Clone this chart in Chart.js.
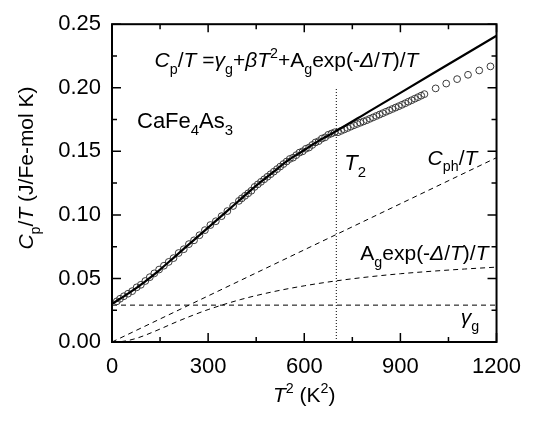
<!DOCTYPE html>
<html>
<head>
<meta charset="utf-8">
<title>CaFe4As3 Cp/T vs T^2</title>
<script src="https://cdn.jsdelivr.net/npm/chart.js@4"></script>
<style>
  html, body { margin: 0; padding: 0; background: #fff; }
  canvas { display: block; }
</style>
</head>
<body>
<canvas id="chartJSContainer" width="533" height="424"></canvas>
<script>
// ---- data ----
var xTicks = [0, 300, 600, 900, 1200];
var yTicks = [0, 0.05, 0.10, 0.15, 0.20, 0.25];

// measured Cp/T (open circles)
var dataT2 = [15, 25, 37, 50, 63, 77, 90, 104, 118, 132, 147, 162, 177, 192, 208, 224, 240, 256, 273, 290,
  307, 324, 342, 360, 378, 396,
  405, 415, 425, 435, 445, 455, 465, 475, 485, 495, 505, 515, 525, 535, 545, 555, 565, 575, 585, 595,
  605, 615, 625, 635, 645, 655, 665, 675, 685, 695,
  705, 715, 725, 735, 745, 755, 765, 775, 785, 795, 805, 815, 825, 835, 845, 855, 865, 875, 885, 895,
  905, 915, 925, 935, 945, 955, 965, 975,
  1010, 1043, 1077, 1111, 1146, 1181];
var dataCpT = [0.032, 0.034, 0.036, 0.038, 0.040, 0.043, 0.045, 0.048, 0.051, 0.054, 0.057, 0.060, 0.063, 0.066, 0.070, 0.073, 0.077, 0.080, 0.084, 0.088,
  0.092, 0.095, 0.099, 0.103, 0.107, 0.111,
  0.113, 0.115, 0.117, 0.119, 0.122, 0.124, 0.126, 0.128, 0.130, 0.132, 0.134, 0.136, 0.138, 0.140, 0.142, 0.144, 0.145, 0.147, 0.149, 0.150,
  0.152, 0.153, 0.155, 0.157, 0.158, 0.160, 0.161, 0.163, 0.164, 0.165,
  0.1650, 0.1661, 0.1672, 0.1683, 0.1694, 0.1705, 0.1715, 0.1725, 0.1735, 0.1745, 0.1756, 0.1767, 0.1778, 0.1789, 0.1800, 0.1811, 0.1822, 0.1833, 0.1844, 0.1855,
  0.1866, 0.1878, 0.1890, 0.1902, 0.1914, 0.1926, 0.1938, 0.1950,
  0.1995, 0.2033, 0.2068, 0.2102, 0.2136, 0.2168];

// total fit (solid line)
var fitT2  = [0, 50, 100, 150, 200, 250, 300, 350, 400, 450, 500, 550, 600, 650, 700, 800, 900, 1000, 1100, 1200];
var fitCpT = [0.030, 0.038, 0.047, 0.057, 0.068, 0.079, 0.090, 0.101, 0.112, 0.123, 0.133, 0.143, 0.151, 0.159, 0.166, 0.181, 0.196, 0.211, 0.226, 0.241];

// phonon part Cph/T (dashed straight line)
var phT2  = [0, 1200];
var phCpT = [0, 0.145];

// gap part Ag exp(-D/T)/T (dashed curve)
var gapT2  = [0, 25, 50, 75, 100, 150, 200, 250, 300, 400, 500, 600, 700, 800, 900, 1000, 1100, 1200];
var gapCpT = [0, 0.0002, 0.0012, 0.0028, 0.0050, 0.0102, 0.0157, 0.0208, 0.0255, 0.0333, 0.0394, 0.0442, 0.0481, 0.0512, 0.0537, 0.0557, 0.0574, 0.0589];

// electronic gamma_g (dashed horizontal)
var gammaT2  = [0, 1200];
var gammaCpT = [0.029, 0.029];

// T2 marker (dotted vertical)
var markT2  = [700, 700];
var markCpT = [0, 0.199];

var FONT = '"Liberation Sans", Arial, sans-serif';

function pts(xs, ys){
    var out = [];
    for (var i = 0; i < xs.length; i++) out.push({x: xs[i], y: ys[i]});
    return out;
}

// draw a run of text pieces: {t, it, sub, sup}
function richWidth(ctx, runs, size){
    var w = 0;
    runs.forEach(function(r){
        var s = (r.sub || r.sup) ? size * 0.68 : size;
        ctx.font = (r.it ? 'italic ' : '') + s + 'px ' + FONT;
        w += ctx.measureText(r.t).width;
    });
    return w;
}
function drawRich(ctx, runs, x, y, size, align){
    var w = richWidth(ctx, runs, size);
    if (align === 'center') x -= w / 2;
    else if (align === 'right') x -= w;
    ctx.textAlign = 'left';
    ctx.textBaseline = 'alphabetic';
    ctx.fillStyle = '#000';
    runs.forEach(function(r){
        var s = (r.sub || r.sup) ? size * 0.68 : size;
        var dy = r.sub ? size * 0.32 : (r.sup ? -size * 0.42 : 0);
        ctx.font = (r.it ? 'italic ' : '') + s + 'px ' + FONT;
        ctx.fillText(r.t, x, y + dy);
        x += ctx.measureText(r.t).width;
    });
}

var framePlugin = {
    id: 'frameAndText',
    afterDraw: function(chart){
        var ctx = chart.ctx, a = chart.chartArea;
        var xs = chart.scales.x, ys = chart.scales.y;
        ctx.save();
        ctx.strokeStyle = '#000';
        ctx.lineWidth = 1.5;
        ctx.beginPath();
        // x ticks (major + minor) on bottom and top, pointing in
        for (var i = 0; i < xTicks.length; i++){
            var v = xTicks[i];
            var p = xs.getPixelForValue(v);
            ctx.moveTo(p, a.bottom); ctx.lineTo(p, a.bottom - 9);
            ctx.moveTo(p, a.top); ctx.lineTo(p, a.top + 8);
            if (i < xTicks.length - 1){
                var m = xs.getPixelForValue((v + xTicks[i + 1]) / 2);
                ctx.moveTo(m, a.bottom); ctx.lineTo(m, a.bottom - 5);
                ctx.moveTo(m, a.top); ctx.lineTo(m, a.top + 5);
            }
        }
        for (var j = 0; j < yTicks.length; j++){
            var w = yTicks[j];
            var q = ys.getPixelForValue(w);
            ctx.moveTo(a.left, q); ctx.lineTo(a.left + 9, q);
            ctx.moveTo(a.right, q); ctx.lineTo(a.right - 9, q);
            if (j < yTicks.length - 1){
                var n = ys.getPixelForValue((w + yTicks[j + 1]) / 2);
                ctx.moveTo(a.left, n); ctx.lineTo(a.left + 5, n);
                ctx.moveTo(a.right, n); ctx.lineTo(a.right - 5, n);
            }
        }
        ctx.stroke();
        ctx.lineWidth = 2;
        ctx.strokeRect(a.left, a.top, a.right - a.left, a.bottom - a.top);

        // axis titles
        drawRich(ctx, [{t:'T', it:true}, {t:'2', sup:true}, {t:' (K'}, {t:'2', sup:true}, {t:')'}],
                 (a.left + a.right) / 2, 402, 21, 'center');
        ctx.save();
        ctx.translate(33, 168);
        ctx.rotate(-Math.PI / 2);
        drawRich(ctx, [{t:'C', it:true}, {t:'p', sub:true}, {t:'/'}, {t:'T', it:true}, {t:' (J/Fe-mol K)'}],
                 0, 0, 21, 'center');
        ctx.restore();

        // annotations, anchored in data space
        drawRich(ctx, [{t:'C', it:true}, {t:'p', sub:true}, {t:'/'}, {t:'T', it:true}, {t:' ='},
                       {t:'\u03B3', it:true}, {t:'g', sub:true}, {t:'+'}, {t:'\u03B2', it:true}, {t:'T', it:true},
                       {t:'2', sup:true}, {t:'+A'}, {t:'g', sub:true}, {t:'exp(-'}, {t:'\u0394', it:true},
                       {t:'/'}, {t:'T', it:true}, {t:')/'}, {t:'T', it:true}],
                 xs.getPixelForValue(133), ys.getPixelForValue(0.2165), 21, 'left');
        drawRich(ctx, [{t:'CaFe'}, {t:'4', sub:true}, {t:'As'}, {t:'3', sub:true}],
                 xs.getPixelForValue(78), ys.getPixelForValue(0.1685), 22, 'left');
        drawRich(ctx, [{t:'T', it:true}, {t:'2', sub:true}],
                 xs.getPixelForValue(725), ys.getPixelForValue(0.135), 22, 'left');
        drawRich(ctx, [{t:'C', it:true}, {t:'ph', sub:true}, {t:'/'}, {t:'T', it:true}],
                 xs.getPixelForValue(1140), ys.getPixelForValue(0.1396), 21, 'right');
        drawRich(ctx, [{t:'A'}, {t:'g', sub:true}, {t:'exp(-'}, {t:'\u0394', it:true}, {t:'/'}, {t:'T', it:true},
                       {t:')/'}, {t:'T', it:true}],
                 xs.getPixelForValue(1175), ys.getPixelForValue(0.0643), 21, 'right');
        drawRich(ctx, [{t:'\u03B3', it:true}, {t:'g', sub:true}],
                 xs.getPixelForValue(1088), ys.getPixelForValue(0.0138), 21, 'left');
        ctx.restore();
    }
};

var ctx = document.getElementById('chartJSContainer').getContext('2d');
var chart = new Chart(ctx, {
    type: 'scatter',
    data: {
        datasets: [
            { label: 'fit', data: pts(fitT2, fitCpT), showLine: true, borderColor: '#000', borderWidth: 2.2,
              pointRadius: 0, tension: 0.3, cubicInterpolationMode: 'monotone' },
            { label: 'data', data: pts(dataT2, dataCpT), showLine: false, pointStyle: 'circle',
              pointRadius: 3.4, borderWidth: 1, borderColor: '#3a3a3a', backgroundColor: 'rgba(255,255,255,0)' },
            { label: 'Cph/T', data: pts(phT2, phCpT), showLine: true, borderColor: '#000', borderWidth: 1,
              borderDash: [5, 4], pointRadius: 0 },
            { label: 'gap', data: pts(gapT2, gapCpT), showLine: true, borderColor: '#000', borderWidth: 1,
              borderDash: [5, 4], pointRadius: 0, cubicInterpolationMode: 'monotone' },
            { label: 'gamma', data: pts(gammaT2, gammaCpT), showLine: true, borderColor: '#000', borderWidth: 1,
              borderDash: [5, 4], pointRadius: 0 },
            { label: 'T2', data: pts(markT2, markCpT), showLine: true, borderColor: '#000', borderWidth: 1,
              borderDash: [1, 2], pointRadius: 0 }
        ]
    },
    options: {
        responsive: false,
        animation: false,
        devicePixelRatio: 1,
        layout: { padding: { left: 0, right: 31, top: 20, bottom: 0 } },
        plugins: { legend: { display: false }, tooltip: { enabled: false } },
        scales: {
            x: {
                type: 'linear', min: 0, max: 1200,
                afterFit: function(s){ s.height = 82; },
                afterBuildTicks: function(s){ s.ticks = xTicks.map(function(v){ return {value: v}; }); },
                grid: { display: false, drawTicks: false },
                border: { display: false },
                ticks: { color: '#000', padding: 12, maxRotation: 0, font: { family: FONT, size: 22 },
                         callback: function(v){ return String(v); } }
            },
            y: {
                type: 'linear', min: 0, max: 0.25,
                afterFit: function(s){ s.width = 112; },
                afterBuildTicks: function(s){ s.ticks = yTicks.map(function(v){ return {value: v}; }); },
                grid: { display: false, drawTicks: false },
                border: { display: false },
                ticks: { color: '#000', padding: 11, font: { family: FONT, size: 22 },
                         callback: function(v){ return Number(v).toFixed(2); } }
            }
        }
    },
    plugins: [framePlugin]
});
</script>
</body>
</html>
